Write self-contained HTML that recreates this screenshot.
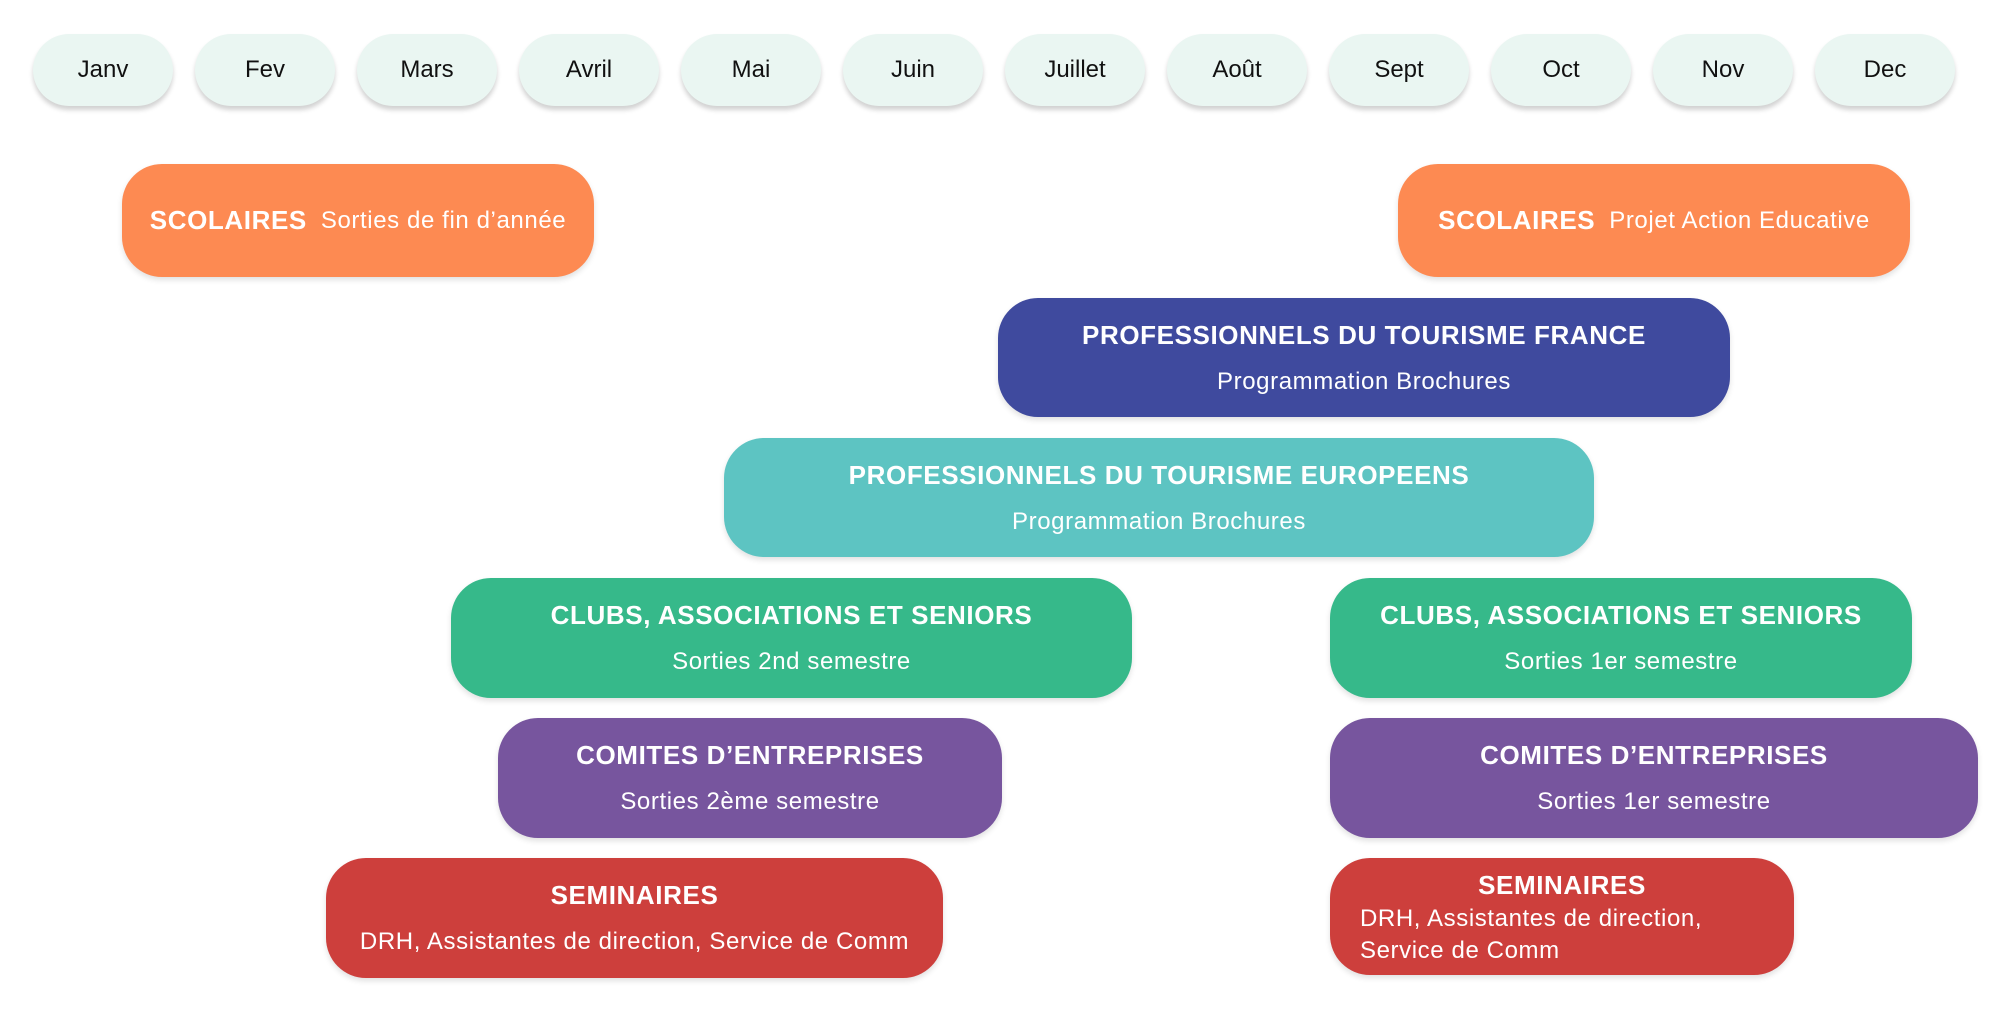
<!DOCTYPE html>
<html><head><meta charset="utf-8"><style>
*{margin:0;padding:0;box-sizing:border-box}
body{width:1996px;height:1022px;background:#fff;position:relative;overflow:hidden;font-family:"Liberation Sans",sans-serif}
.m{position:absolute;top:34px;width:140px;height:72px;border-radius:36px;background:#eaf6f2;box-shadow:0 4px 5px rgba(0,0,0,0.18);font-size:24px;color:#111;display:flex;align-items:center;justify-content:center}
.b{position:absolute;border-radius:40px;color:#fff;box-shadow:0 3px 6px rgba(0,0,0,0.12);text-align:center;letter-spacing:0.6px}
.t{position:absolute;left:0;right:0;font-weight:bold;font-size:26px;top:22px}
.s{position:absolute;left:0;right:0;font-size:24px;top:70px}
</style></head><body>
<div class="m" style="left:33px">Janv</div>
<div class="m" style="left:195px">Fev</div>
<div class="m" style="left:357px">Mars</div>
<div class="m" style="left:519px">Avril</div>
<div class="m" style="left:681px">Mai</div>
<div class="m" style="left:843px">Juin</div>
<div class="m" style="left:1005px">Juillet</div>
<div class="m" style="left:1167px">Août</div>
<div class="m" style="left:1329px">Sept</div>
<div class="m" style="left:1491px">Oct</div>
<div class="m" style="left:1653px">Nov</div>
<div class="m" style="left:1815px">Dec</div>

<div class="b" style="left:122px;top:164px;width:472px;height:113px;background:#fd8a52;display:flex;align-items:center;justify-content:center;font-size:24px"><b style="font-size:26px;margin-right:14px">SCOLAIRES</b>Sorties de fin d’année</div>
<div class="b" style="left:1398px;top:164px;width:512px;height:113px;background:#fd8a52;display:flex;align-items:center;justify-content:center;font-size:24px"><b style="font-size:26px;margin-right:14px">SCOLAIRES</b>Projet Action Educative</div>

<div class="b" style="left:998px;top:298px;width:732px;height:119px;background:#3f4a9e"><div class="t">PROFESSIONNELS DU TOURISME FRANCE</div><div class="s">Programmation Brochures</div></div>
<div class="b" style="left:724px;top:438px;width:870px;height:119px;background:#5dc4c2"><div class="t">PROFESSIONNELS DU TOURISME EUROPEENS</div><div class="s">Programmation Brochures</div></div>

<div class="b" style="left:451px;top:578px;width:681px;height:120px;background:#36b98a"><div class="t">CLUBS, ASSOCIATIONS ET SENIORS</div><div class="s">Sorties 2nd semestre</div></div>
<div class="b" style="left:1330px;top:578px;width:582px;height:120px;background:#36b98a"><div class="t">CLUBS, ASSOCIATIONS ET SENIORS</div><div class="s">Sorties 1er semestre</div></div>

<div class="b" style="left:498px;top:718px;width:504px;height:120px;background:#77559e"><div class="t">COMITES D’ENTREPRISES</div><div class="s">Sorties 2ème semestre</div></div>
<div class="b" style="left:1330px;top:718px;width:648px;height:120px;background:#77559e"><div class="t">COMITES D’ENTREPRISES</div><div class="s">Sorties 1er semestre</div></div>

<div class="b" style="left:326px;top:858px;width:617px;height:120px;background:#cd3f3c"><div class="t">SEMINAIRES</div><div class="s">DRH, Assistantes de direction, Service de Comm</div></div>
<div class="b" style="left:1330px;top:858px;width:464px;height:117px;background:#cd3f3c"><div class="t" style="top:12px">SEMINAIRES</div><div style="position:absolute;left:30px;top:45px;text-align:left;font-size:24px;line-height:32px">DRH, Assistantes de direction,<br>Service de Comm</div></div>
</body></html>
